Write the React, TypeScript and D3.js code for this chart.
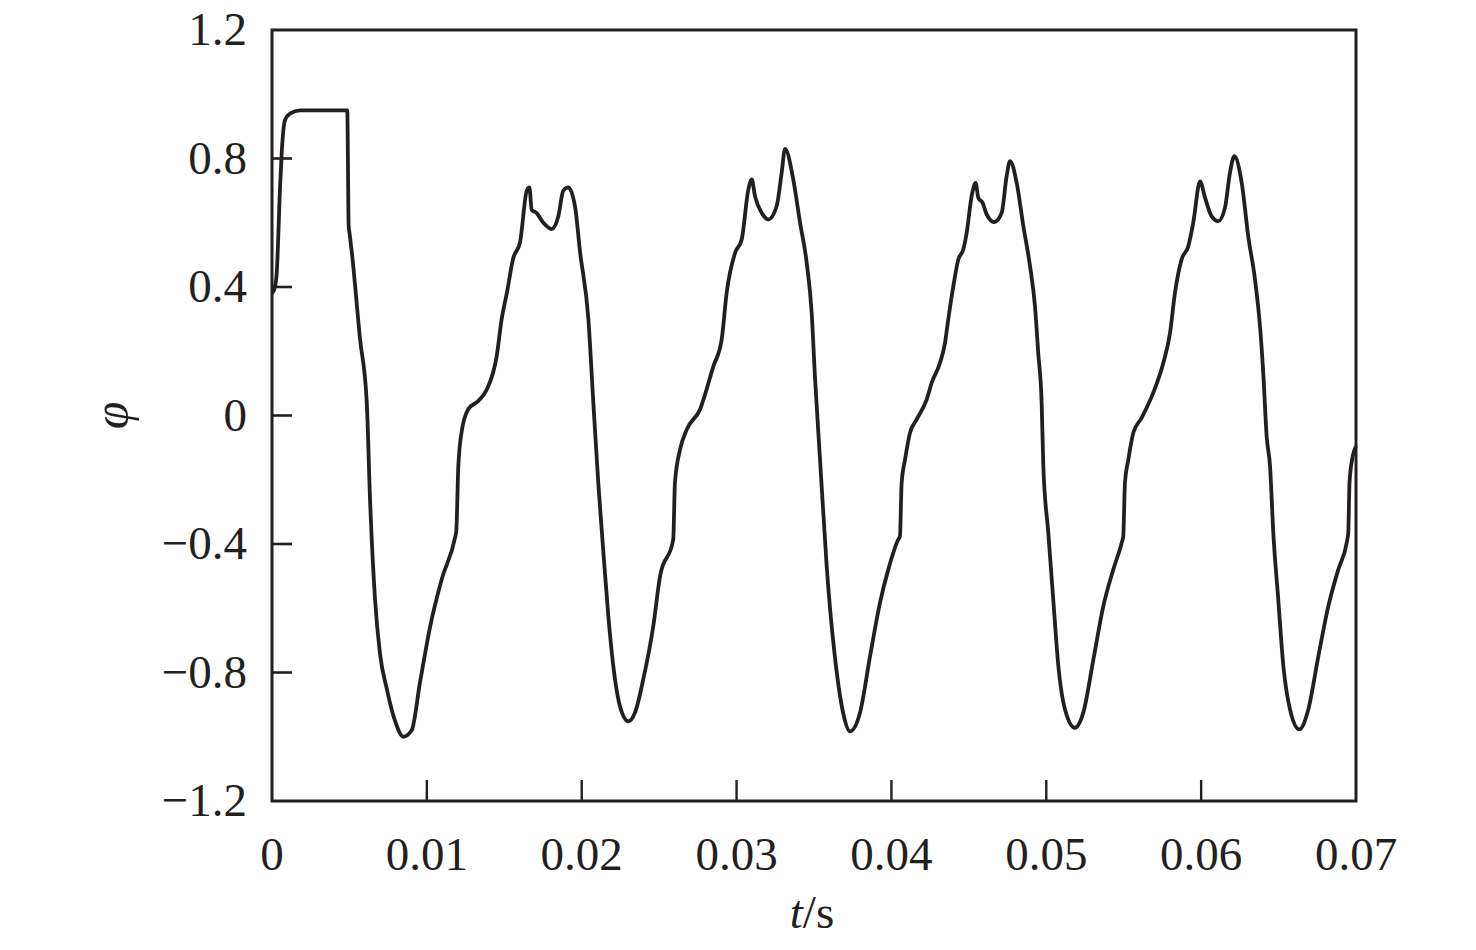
import React from "react";
import * as d3 from "d3";

const tSeries: number[] = [
  0, 0.00019, 0.0003, 0.00052, 0.00063, 0.00084, 0.00116, 0.00181, 0.00353, 0.00486,
  0.00495, 0.005, 0.00515, 0.00568, 0.00612, 0.00633, 0.00665, 0.00697, 0.00741, 0.00794,
  0.00848, 0.00902, 0.00956, 0.0102, 0.01096, 0.01182, 0.0119, 0.01203, 0.01225, 0.01268,
  0.01332, 0.01386, 0.01451, 0.01483, 0.01516, 0.01558, 0.01602, 0.01645, 0.01662, 0.01677,
  0.01709, 0.01752, 0.01806, 0.01849, 0.01881, 0.01913, 0.01957, 0.01989, 0.02043, 0.02075,
  0.02107, 0.02139, 0.02172, 0.02204, 0.02247, 0.02301, 0.02344, 0.02398, 0.02462, 0.02506,
  0.02591, 0.02602, 0.02635, 0.02678, 0.02764, 0.0285, 0.02904, 0.02936, 0.0299, 0.03033,
  0.03076, 0.03098, 0.03119, 0.03162, 0.03205, 0.03259, 0.03291, 0.03313, 0.03366, 0.0341,
  0.03453, 0.03485, 0.03506, 0.03539, 0.03582, 0.03647, 0.0369, 0.03732, 0.03797, 0.03862,
  0.03926, 0.0398, 0.04044, 0.04055, 0.04066, 0.04088, 0.0412, 0.04163, 0.04228, 0.0426,
  0.04314, 0.04346, 0.04367, 0.044, 0.04432, 0.04464, 0.04486, 0.04518, 0.04544, 0.04561,
  0.04589, 0.04615, 0.04664, 0.04712, 0.04744, 0.04766, 0.04809, 0.04852, 0.04895, 0.04927,
  0.04948, 0.0497, 0.04981, 0.05013, 0.05045, 0.05078, 0.05121, 0.05185, 0.05239, 0.05304,
  0.05368, 0.05433, 0.05487, 0.05497, 0.05508, 0.0553, 0.05562, 0.05616, 0.05691, 0.05756,
  0.05799, 0.05831, 0.05874, 0.05917, 0.05949, 0.05993, 0.06025, 0.06068, 0.06111, 0.06154,
  0.06186, 0.06214, 0.06262, 0.06304, 0.06348, 0.0638, 0.06401, 0.06423, 0.06445, 0.06466,
  0.06498, 0.06531, 0.06574, 0.06634, 0.06692, 0.06757, 0.06821, 0.06886, 0.0694, 0.0695,
  0.06958, 0.06975, 0.07,
];

const phiSeries: number[] = [
  0.38, 0.4, 0.44, 0.71, 0.82, 0.92, 0.94, 0.95, 0.95, 0.95,
  0.59, 0.57, 0.51, 0.24, 0.04, -0.26, -0.57, -0.74, -0.85, -0.95,
  -1.0, -0.98, -0.83, -0.66, -0.51, -0.38, -0.36, -0.16, -0.05, 0.02,
  0.045, 0.08, 0.185, 0.3, 0.38, 0.49, 0.54, 0.7, 0.71, 0.64,
  0.63, 0.6, 0.58, 0.62, 0.7, 0.71, 0.65, 0.51, 0.3, 0.04,
  -0.21, -0.42, -0.625, -0.78, -0.905, -0.952, -0.925, -0.82, -0.656, -0.5,
  -0.386, -0.21, -0.106, -0.044, 0.019, 0.153, 0.237, 0.382, 0.506, 0.548,
  0.703, 0.735, 0.683, 0.631, 0.61, 0.652, 0.755, 0.83, 0.735, 0.6,
  0.475, 0.32, 0.122, -0.137, -0.47, -0.8, -0.93, -0.983, -0.925, -0.749,
  -0.583, -0.479, -0.386, -0.376, -0.21, -0.137, -0.054, -0.012, 0.05, 0.102,
  0.164, 0.226, 0.299, 0.403, 0.486, 0.517, 0.569, 0.683, 0.724, 0.678,
  0.662, 0.626, 0.602, 0.631, 0.745, 0.792, 0.724, 0.589, 0.465, 0.34,
  0.195, 0.04, -0.158, -0.365, -0.573, -0.78, -0.915, -0.972, -0.925, -0.76,
  -0.594, -0.479, -0.396, -0.376, -0.21, -0.137, -0.054, -0.007, 0.071, 0.164,
  0.257, 0.382, 0.486, 0.527, 0.6, 0.729, 0.678, 0.62, 0.605, 0.647,
  0.755, 0.807, 0.724, 0.558, 0.423, 0.278, 0.133, -0.064, -0.158, -0.365,
  -0.573, -0.78, -0.915, -0.977, -0.915, -0.749, -0.594, -0.479, -0.396, -0.365,
  -0.21, -0.137, -0.096,
];

const xTicks: number[] = [0, 0.01, 0.02, 0.03, 0.04, 0.05, 0.06, 0.07];
const xTickLabels: string[] = ["0", "0.01", "0.02", "0.03", "0.04", "0.05", "0.06", "0.07"];
const yTicks: number[] = [-1.2, -0.8, -0.4, 0, 0.4, 0.8, 1.2];
const yTickLabels: string[] = ["\u22121.2", "\u22120.8", "\u22120.4", "0", "0.4", "0.8", "1.2"];

const W = 1476;
const H = 950;
const left = 272;
const right = 1356;
const top = 30;
const bottom = 801;
const ink = "#231f20";
const font = "'Liberation Serif', 'Times New Roman', serif";

export default function App() {
  const x = d3.scaleLinear().domain([0, 0.07]).range([left, right]);
  const y = d3.scaleLinear().domain([-1.2, 1.2]).range([bottom, top]);
  const data = tSeries.map((t, i) => [t, phiSeries[i]] as [number, number]);
  const line = d3
    .line<[number, number]>()
    .x((d) => x(d[0]))
    .y((d) => y(d[1]))
    .curve(d3.curveMonotoneX);
  const path = line(data) || "";

  return (
    <svg
      width={W}
      height={H}
      style={{ position: "absolute", left: 0, top: 0, background: "#fff" }}
    >
      <rect x={0} y={0} width={W} height={H} fill="#fff" />
      <path d={path} fill="none" stroke={ink} strokeWidth={3.8} strokeLinejoin="round" />
      {xTicks.map((t, i) => (
        <g key={"xt" + i}>
          {i > 0 && i < xTicks.length - 1 && (
            <line x1={x(t)} x2={x(t)} y1={bottom} y2={bottom - 21} stroke={ink} strokeWidth={2.4} />
          )}
          <text
            x={x(t)}
            y={bottom + 69}
            textAnchor="middle"
            fontFamily={font}
            fontSize={47}
            fill={ink}
          >
            {xTickLabels[i]}
          </text>
        </g>
      ))}
      {yTicks.map((v, i) => (
        <g key={"yt" + i}>
          {i > 0 && i < yTicks.length - 1 && (
            <line x1={left} x2={left + 20} y1={y(v)} y2={y(v)} stroke={ink} strokeWidth={2.6} />
          )}
          <text
            x={247}
            y={y(v) + 15}
            textAnchor="end"
            fontFamily={font}
            fontSize={47}
            fill={ink}
          >
            {yTickLabels[i]}
          </text>
        </g>
      ))}
      <rect
        x={left}
        y={top}
        width={right - left}
        height={bottom - top}
        fill="none"
        stroke={ink}
        strokeWidth={3}
      />
      <text
        x={812}
        y={928}
        textAnchor="middle"
        fontFamily={font}
        fontSize={47}
        fill={ink}
      >
        <tspan fontStyle="italic">t</tspan>
        <tspan>/s</tspan>
      </text>
      <text
        transform={`translate(128, ${y(0)}) rotate(-90)`}
        textAnchor="middle"
        fontFamily={font}
        fontStyle="italic"
        fontSize={50}
        fill={ink}
      >
        φ
      </text>
    </svg>
  );
}
